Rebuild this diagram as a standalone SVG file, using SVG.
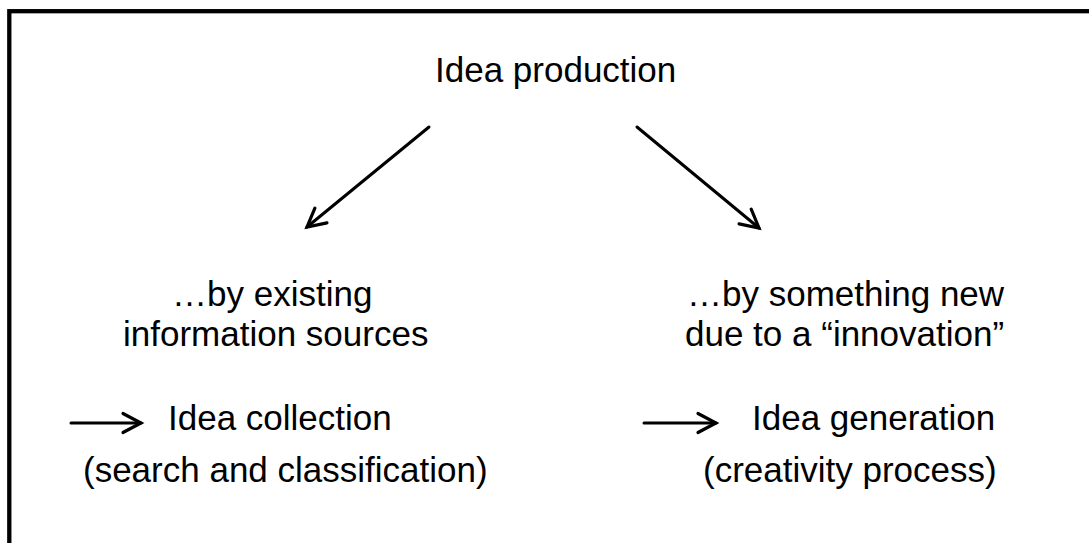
<svg xmlns="http://www.w3.org/2000/svg" width="1089" height="543" viewBox="0 0 1089 543">
  <style>
    .t { font-family: "Liberation Sans", Arial, sans-serif; font-size: 35px; fill: #000; }
    .c { fill: none; stroke: #000; stroke-width: 3; stroke-linecap: round; }
  </style>
  <defs>
    <marker id="vhead" markerUnits="userSpaceOnUse" markerWidth="30" markerHeight="30" viewBox="-22 -15 30 30" refX="0" refY="0" orient="auto">
      <path d="M-18,-9.5 L0,0 L-18,9.5" fill="none" stroke="#000" stroke-width="3.2" stroke-linecap="round" stroke-linejoin="miter"/>
    </marker>
  </defs>
  <rect width="1089" height="543" fill="#fff"/>
  <!-- frame, running off the right and bottom edges -->
  <rect x="9.3" y="11.2" width="1200" height="600" fill="none" stroke="#000" stroke-width="4.3"/>

  <g id="node-production">
    <text class="t" x="435" y="82">Idea production</text>
  </g>
  <g id="node-existing">
    <text class="t" x="172" y="306">…by existing</text>
    <text class="t" x="123" y="346">information sources</text>
  </g>
  <g id="node-new">
    <text class="t" x="687" y="306">…by something new</text>
    <text class="t" x="685" y="346">due to a “innovation”</text>
  </g>
  <g id="node-collection">
    <text class="t" x="168" y="430">Idea collection</text>
    <text class="t" x="83" y="482">(search and classification)</text>
  </g>
  <g id="node-generation">
    <text class="t" x="752" y="430">Idea generation</text>
    <text class="t" x="703" y="482">(creativity process)</text>
  </g>

  <g id="connectors">
    <line class="c" x1="429" y1="127" x2="307" y2="227" marker-end="url(#vhead)"/>
    <line class="c" x1="637" y1="127" x2="759" y2="228" marker-end="url(#vhead)"/>
    <line class="c" x1="71" y1="423" x2="141" y2="423" marker-end="url(#vhead)"/>
    <line class="c" x1="644" y1="423" x2="716" y2="423" marker-end="url(#vhead)"/>
  </g>
</svg>
